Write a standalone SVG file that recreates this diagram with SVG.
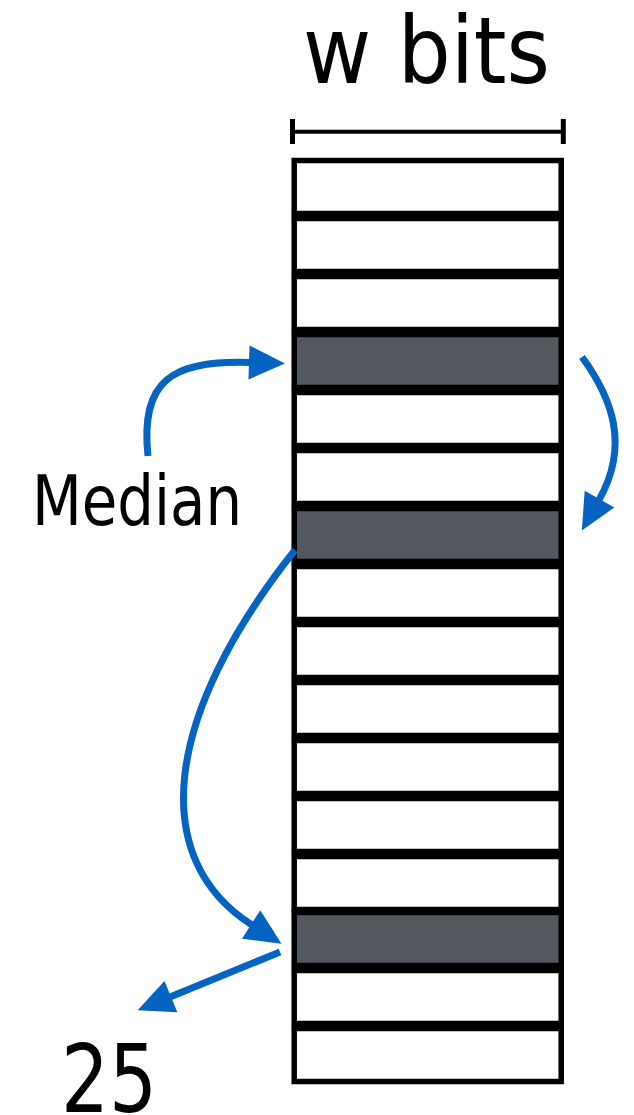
<svg xmlns="http://www.w3.org/2000/svg" width="634" height="1115" viewBox="0 0 634 1115">
  <style>
    .cell { fill: #ffffff; stroke: #000000; stroke-width: 5.5; }
    .cell.hit { fill: #53575e; }
    .lbl { font-family: "DejaVu Sans Condensed", "DejaVu Sans", Verdana, sans-serif; fill: #000000; }
    .conn { fill: none; stroke: #0563c1; stroke-width: 7; }
    .bracket { stroke: #000000; fill: none; }
  </style>
  <defs>
    <marker id="head" markerUnits="userSpaceOnUse" orient="auto" refX="0" refY="0" markerWidth="40" markerHeight="40" viewBox="-2 -20 40 40" overflow="visible">
      <path d="M-1,-17 L35,0 L-1,17 Z" fill="#0563c1"/>
    </marker>
  </defs>

  <!-- width label and bracket -->
  <g id="width-label">
    <text class="lbl" x="303" y="83" font-size="92" textLength="247" lengthAdjust="spacingAndGlyphs">w bits</text>
    <line class="bracket" x1="292" y1="131.7" x2="564" y2="131.7" stroke-width="4"/>
    <line class="bracket" x1="292.5" y1="119" x2="292.5" y2="144" stroke-width="5"/>
    <line class="bracket" x1="563.3" y1="119" x2="563.3" y2="144" stroke-width="5"/>
  </g>

  <!-- memory column: 16 words -->
  <g id="cell-0"><rect class="cell" x="294.2" y="160.5" width="267" height="53"/></g>
  <g id="cell-1"><rect class="cell" x="294.2" y="218.5" width="267" height="53"/></g>
  <g id="cell-2"><rect class="cell" x="294.2" y="276.5" width="267" height="53"/></g>
  <g id="cell-3"><rect class="cell hit" x="294.2" y="334.5" width="267" height="53"/></g>
  <g id="cell-4"><rect class="cell" x="294.2" y="392.5" width="267" height="53"/></g>
  <g id="cell-5"><rect class="cell" x="294.2" y="450.5" width="267" height="53"/></g>
  <g id="cell-6"><rect class="cell hit" x="294.2" y="508.5" width="267" height="53"/></g>
  <g id="cell-7"><rect class="cell" x="294.2" y="566.5" width="267" height="53"/></g>
  <g id="cell-8"><rect class="cell" x="294.2" y="624.5" width="267" height="53"/></g>
  <g id="cell-9"><rect class="cell" x="294.2" y="682.5" width="267" height="53"/></g>
  <g id="cell-10"><rect class="cell" x="294.2" y="740.5" width="267" height="53"/></g>
  <g id="cell-11"><rect class="cell" x="294.2" y="798.5" width="267" height="53"/></g>
  <g id="cell-12"><rect class="cell" x="294.2" y="856.5" width="267" height="53"/></g>
  <g id="cell-13"><rect class="cell hit" x="294.2" y="912.5" width="267" height="53"/></g>
  <g id="cell-14"><rect class="cell" x="294.2" y="970.5" width="267" height="53"/></g>
  <g id="cell-15"><rect class="cell" x="294.2" y="1028.5" width="267" height="53"/></g>

  <g id="median-label">
    <text class="lbl" x="32" y="525" font-size="69" textLength="210" lengthAdjust="spacingAndGlyphs">Median</text>
  </g>
  <g id="result-label">
    <text class="lbl" x="61" y="1112" font-size="94" textLength="96" lengthAdjust="spacingAndGlyphs">25</text>
  </g>

  <!-- connectors -->
  <g id="connectors">
    <path class="conn" d="M148,456 C140,380 172,360 250,362.5" marker-end="url(#head)"/>
    <path class="conn" d="M582,357 C612,398 630,445 599,500" marker-end="url(#head)"/>
    <path class="conn" d="M295,550 C160,720 150,860 252,925" marker-end="url(#head)"/>
    <path class="conn" d="M280,952 L170,997" marker-end="url(#head)"/>
  </g>
</svg>
